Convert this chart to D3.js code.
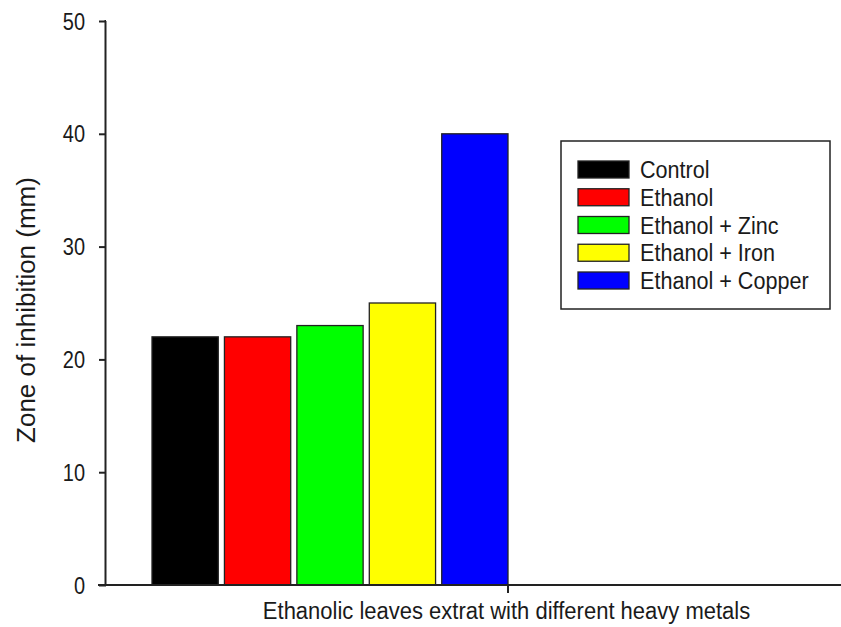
<!DOCTYPE html>
<html>
<head>
<meta charset="utf-8">
<script src="https://cdn.jsdelivr.net/npm/d3@7"></script>
<style>
  html, body { margin: 0; padding: 0; background: #fff; }
  svg text { font-family: "Liberation Sans", Arial, sans-serif; fill: #1a1a1a; }
</style>
</head>
<body>
<svg id="chart" width="841" height="627"></svg>
<script>
const categories = ["Control", "Ethanol", "Ethanol + Zinc", "Ethanol + Iron", "Ethanol + Copper"];
const values = [22, 22, 23, 25, 40];
const colors = ["#000000", "#ff0000", "#00ff00", "#ffff00", "#0000ff"];
const yTicks = [0, 10, 20, 30, 40, 50];
const xLabel = "Ethanolic leaves extrat with different heavy metals";
const yLabel = "Zone of inhibition (mm)";

const svg = d3.select("#chart");
const plot = { left: 106, right: 841, top: 21, bottom: 585 };
const SY = 1.2; // vertical stretch of the original picture

const y = d3.scaleLinear().domain([0, 50]).range([plot.bottom, plot.top]);
const x = d3.scaleBand().domain(categories).range([152, 508]).paddingInner(0.085).paddingOuter(0);

// bars
svg.append("g").selectAll("rect").data(categories).join("rect")
  .attr("x", d => x(d))
  .attr("y", (d, i) => y(values[i]))
  .attr("width", x.bandwidth())
  .attr("height", (d, i) => y(0) - y(values[i]))
  .attr("fill", (d, i) => colors[i])
  .attr("stroke", "#222")
  .attr("stroke-width", 1.3);

// y axis
const yAxis = svg.append("g").attr("transform", `translate(${plot.left},0)`)
  .call(d3.axisLeft(y).tickValues(yTicks).tickSize(7).tickPadding(0).tickFormat(d3.format("d")));
yAxis.select(".domain").attr("d", `M0,${plot.top}H-0.5V${plot.bottom}`).attr("stroke", "#222").attr("stroke-width", 2);
yAxis.selectAll(".tick line").attr("stroke", "#222").attr("stroke-width", 2);
yAxis.selectAll(".tick text")
  .attr("x", -21).attr("y", 0).attr("dy", null).attr("dominant-baseline", "central")
  .attr("font-size", 20).attr("fill", "#1a1a1a")
  .attr("transform", `scale(1,${SY})`);

// x axis line
svg.append("line")
  .attr("x1", plot.left - 8).attr("x2", plot.right)
  .attr("y1", plot.bottom).attr("y2", plot.bottom)
  .attr("stroke", "#222").attr("stroke-width", 2);
// single x tick at the right end of the bar group
const xTickX = x(categories[categories.length - 1]) + x.bandwidth();
svg.append("line")
  .attr("x1", xTickX).attr("x2", xTickX)
  .attr("y1", plot.bottom).attr("y2", plot.bottom + 8)
  .attr("stroke", "#222").attr("stroke-width", 2);

// axis titles
svg.append("text")
  .attr("transform", `translate(506.5,619) scale(1,1.05)`)
  .attr("text-anchor", "middle")
  .attr("font-size", 22)
  .text(xLabel);
svg.append("text")
  .attr("transform", `translate(35,310) rotate(-90)`)
  .attr("text-anchor", "middle")
  .attr("font-size", 26)
  .text(yLabel);

// legend
const lg = svg.append("g");
lg.append("rect")
  .attr("x", 561).attr("y", 141).attr("width", 269).attr("height", 168)
  .attr("fill", "#fff").attr("stroke", "#222").attr("stroke-width", 1.5);
const rowY = d3.scalePoint().domain(categories).range([161, 272]);
const items = lg.selectAll("g.item").data(categories).join("g").attr("class", "item");
items.append("rect")
  .attr("x", 578).attr("y", d => rowY(d))
  .attr("width", 51).attr("height", 17)
  .attr("fill", (d, i) => colors[i])
  .attr("stroke", "#222").attr("stroke-width", 1.3);
items.append("text")
  .attr("transform", d => `translate(640,${rowY(d) + 8.5}) scale(1,1.15)`)
  .attr("dominant-baseline", "central")
  .attr("font-size", 21.6)
  .text(d => d);
</script>
</body>
</html>
